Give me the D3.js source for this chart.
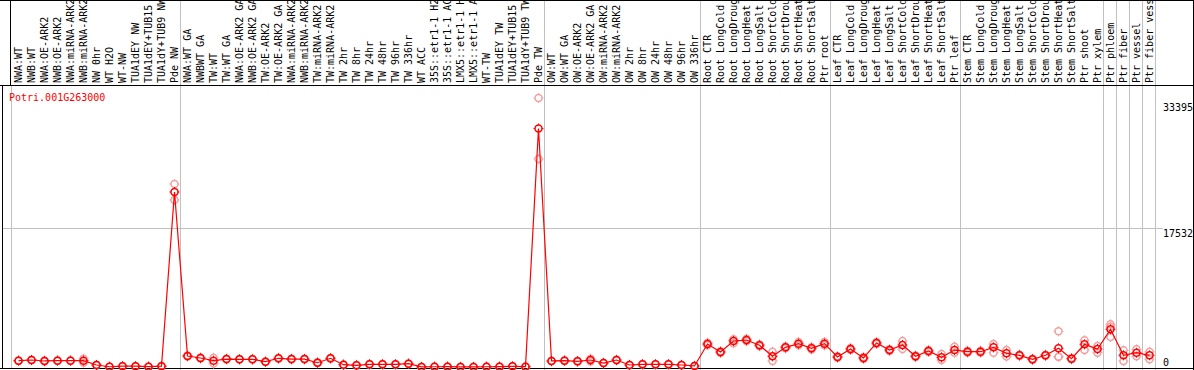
<!DOCTYPE html>
<html>
  <head>
    <meta charset="utf-8">
    <title></title>
    <script type="text/javascript" src="https://d3js.org/d3.v7.min.js"></script>
    <style media="screen">
      body { margin: 0; background: #fff; }
      text { font-family: "DejaVu Sans Mono", monospace; font-size: 10px; }
    </style>
  </head>
  <body>
    <div class="vis">
    </div>
    <script type="text/javascript">
      var w = 1194;
      var h = 370;
      var geneName = "Potri.001G263000";

      var samples = [
        "NWA:WT", "NWB:WT", "NWA:OE-ARK2", "NWB:OE-ARK2", "NWA:miRNA-ARK2", "NWB:miRNA-ARK2",
        "NW 0hr", "WT H2O", "WT-NW", "TUA1dEY NW", "TUA1dEY+TUB15", "TUA1dY+TUB9 NW", "Pde NW",
        "NWA:WT GA", "NWBWT GA", "TW:WT", "TW:WT GA", "NWA:OE-ARK2 GA", "NWB:OE-ARK2 GA",
        "TW:OE-ARK2", "TW:OE-ARK2 GA", "NWA:miRNA-ARK2", "NWB:miRNA-ARK2", "TW:miRNA-ARK2",
        "TW:miRNA-ARK2", "TW 2hr", "TW 8hr", "TW 24hr", "TW 48hr", "TW 96hr", "TW 336hr", "WT ACC",
        "35S::etr1-1 H2O", "35S::etr1-1 ACC", "LMX5::etr1-1 H2O", "LMX5::etr1-1 ACC", "WT-TW",
        "TUA1dEY TW", "TUA1dEY+TUB15", "TUA1dY+TUB9 TW", "Pde TW",
        "OW:WT", "OW:WT GA", "OW:OE-ARK2", "OW:OE-ARK2 GA", "OW:miRNA-ARK2", "OW:miRNA-ARK2",
        "OW 2hr", "OW 8hr", "OW 24hr", "OW 48hr", "OW 96hr", "OW 336hr",
        "Root CTR", "Root LongCold", "Root LongDrought", "Root LongHeat", "Root LongSalt",
        "Root ShortCold", "Root ShortDrought", "Root ShortHeat", "Root ShortSalt", "Ptr root",
        "Leaf CTR", "Leaf LongCold", "Leaf LongDrought", "Leaf LongHeat", "Leaf LongSalt",
        "Leaf ShortCold", "Leaf ShortDrought", "Leaf ShortHeat", "Leaf ShortSalt", "Ptr leaf",
        "Stem CTR", "Stem LongCold", "Stem LongDrought", "Stem LongHeat", "Stem LongSalt",
        "Stem ShortCold", "Stem ShortDrought", "Stem ShortHeat", "Stem ShortSalt", "Ptr shoot", "Ptr xylem",
        "Ptr phloem", "Ptr fiber", "Ptr vessel", "Ptr fiber vessel"
      ];

      // number of samples in each block between the grey dividers
      var groupSizes = [13, 28, 12, 10, 10, 11, 1, 1, 1, 1];

      var means = [
        800, 880, 760, 800, 800, 800, 250, 30, 100, 100, 40, 100, 22070,
        1390, 1135, 800, 1000, 970, 970, 670, 1100, 1000, 1000, 540, 1100, 290, 210, 340, 340, 340, 415,
        10, 30, 40, 10, 10, 30, 40, 80, 40, 30080,
        760, 800, 720, 880, 500, 880, 250, 340, 340, 340, 250, 130,
        2900, 1890, 3280, 3400, 2740, 1350, 2480, 2940, 2360, 2940,
        1260, 2270, 1135, 3030, 2140, 2770, 1350, 2020, 1220, 2140,
        1930, 1930, 2480, 1730, 1475, 970, 1475, 2360, 1050, 2860, 2270,
        4750, 1475, 1800, 1475
      ];

      var replicates = [
        [830, 770], [900, 860], [700, 820], [820, 780], [780, 820], [1050, 550], [270, 230], [40, 20],
        [120, 80], [110, 90], [50, 30], [150, 50], [23077, 21060],
        [1450, 1330], [1200, 1070], [1170, 430], [1050, 950], [1000, 940], [1000, 940], [700, 640],
        [1150, 1050], [1050, 950], [1050, 950], [600, 480], [1150, 1050], [330, 250], [240, 180],
        [380, 300], [370, 310], [360, 320], [440, 390], [20, 0], [50, 10], [60, 20], [20, 0], [20, 0],
        [50, 10], [60, 20], [100, 60], [60, 20], [33929, 26235],
        [800, 720], [850, 750], [780, 660], [1050, 710], [540, 460], [930, 830], [280, 220], [370, 310],
        [360, 320], [370, 310], [280, 220], [160, 100],
        [3050, 2750], [2000, 1780], [3490, 2990], [3550, 3250], [2850, 2630], [1930, 770], [2600, 2360],
        [3150, 2730], [2500, 2220], [3150, 2730],
        [1350, 1170], [2400, 2140], [1250, 1020], [3150, 2910], [2250, 2030], [3270, 2270], [1450, 1250],
        [2150, 1890], [1640, 880], [2560, 1800],
        [2050, 1810], [2060, 1800], [2900, 1800], [2140, 1320], [1550, 1400], [1050, 890], [1560, 1390],
        [4500, 1300, 1280], [1120, 980], [3370, 2140], [2650, 1800],
        [5380, 5090, 3780], [2100, 760], [2230, 1370], [1930, 970]
      ];

      var yTicks = [0, 17532, 33395];

      var headerH = 85;
      var plotLeft = 11;
      var colW = 13;

      var xscale = d3.scaleBand()
        .domain(d3.range(samples.length))
        .range([plotLeft, plotLeft + samples.length * colW]);
      var yscale = d3.scaleLinear()
        .domain([0, 33395])
        .range([367, 102.2]);
      var px = function(i) { return xscale(i) + xscale.bandwidth() / 2 + 1; };

      var svg = d3.select('.vis')
        .append('svg')
        .attr('width', w)
        .attr('height', h);

      // divider positions between the sample blocks
      var dividers = [];
      var acc = 0;
      groupSizes.forEach(function(n) {
        acc += n;
        dividers.push(xscale(acc - 1) + xscale.bandwidth());
      });

      svg.selectAll('line.div')
        .data(dividers)
        .enter()
        .append('line')
        .attr('class', 'div')
        .attr('x1', function(d){ return d + 0.5; })
        .attr('x2', function(d){ return d + 0.5; })
        .attr('y1', 0)
        .attr('y2', h)
        .attr('stroke', '#c0c0c0');

      svg.append('line')
        .attr('x1', plotLeft + 0.5).attr('x2', plotLeft + 0.5)
        .attr('y1', headerH).attr('y2', 368)
        .attr('stroke', '#c0c0c0');

      // mid grid line
      svg.append('line')
        .attr('x1', 3).attr('x2', 1163)
        .attr('y1', Math.round(yscale(17532)) + 0.5)
        .attr('y2', Math.round(yscale(17532)) + 0.5)
        .attr('stroke', '#c0c0c0');

      // sample labels, rotated
      svg.selectAll('text.lab')
        .data(samples)
        .enter()
        .append('text')
        .attr('class', 'lab')
        .attr('transform', function(d, i){
          return 'translate(' + (px(i) - 0.5) + ',' + (headerH - 2) + ') rotate(-90)';
        })
        .attr('dy', '0.35em')
        .text(function(d){ return d; });

      // frame
      var black = '#000';
      svg.append('line').attr('x1', 0).attr('x2', w).attr('y1', 0.5).attr('y2', 0.5).attr('stroke', black);
      svg.append('line').attr('x1', 0).attr('x2', w).attr('y1', headerH + 0.5).attr('y2', headerH + 0.5).attr('stroke', black);
      svg.append('line').attr('x1', 0).attr('x2', w).attr('y1', 368.5).attr('y2', 368.5).attr('stroke', black);
      svg.append('line').attr('x1', plotLeft - 0.5).attr('x2', plotLeft - 0.5).attr('y1', 0).attr('y2', headerH).attr('stroke', black);
      svg.append('line').attr('x1', 2.5).attr('x2', 2.5).attr('y1', headerH).attr('y2', 369).attr('stroke', black);
      svg.append('line').attr('x1', w - 0.5).attr('x2', w - 0.5).attr('y1', 0).attr('y2', h).attr('stroke', black);

      // y tick labels on the right
      svg.selectAll('text.tick')
        .data(yTicks)
        .enter()
        .append('text')
        .attr('class', 'tick')
        .attr('x', 1163)
        .attr('y', function(d){ return Math.min(yscale(d) + 9, 366); })
        .text(function(d){ return d; });

      svg.append('text')
        .attr('x', 9)
        .attr('y', 101)
        .attr('fill', 'red')
        .text(geneName);

      var marker = function(g, color) {
        g.append('circle')
          .attr('r', 3.5)
          .attr('fill', 'none')
          .attr('stroke', color)
          .attr('stroke-width', 1.5);
        g.append('path')
          .attr('d', 'M-5,0H-3.5M3.5,0H5M0,-5V-3.5M0,3.5V5')
          .attr('stroke', color)
          .attr('stroke-width', 1);
      };

      // replicate points
      var repPts = [];
      replicates.forEach(function(r, i) {
        r.forEach(function(v){ repPts.push({ i: i, v: v }); });
      });
      svg.selectAll('g.rep')
        .data(repPts)
        .enter()
        .append('g')
        .attr('class', 'rep')
        .attr('transform', function(d){ return 'translate(' + px(d.i) + ',' + yscale(d.v) + ')'; })
        .each(function(){ marker(d3.select(this), '#f2a0a0'); });

      var line = d3.line()
        .x(function(d, i){ return px(i); })
        .y(function(d){ return yscale(d); });

      svg.append('path')
        .datum(means)
        .attr('d', line)
        .attr('fill', 'none')
        .attr('stroke', 'red')
        .attr('stroke-width', 1.2);

      svg.selectAll('g.mean')
        .data(means)
        .enter()
        .append('g')
        .attr('class', 'mean')
        .attr('transform', function(d, i){ return 'translate(' + px(i) + ',' + yscale(d) + ')'; })
        .each(function(){ marker(d3.select(this), 'red'); });
    </script>
  </body>
</html>
